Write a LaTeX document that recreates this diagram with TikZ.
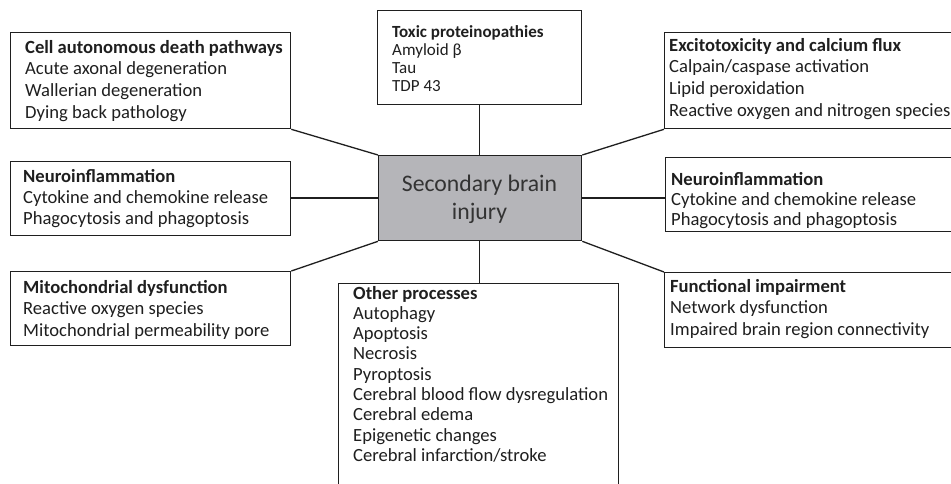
\documentclass[tikz,border=0pt]{standalone}
\usepackage{fontspec}
\setmainfont{Carlito}
\begin{document}
\begin{tikzpicture}[x=1pt,y=-1pt,
  frame/.style={draw=black!88,line width=1.3pt,fill=white,anchor=north west,inner sep=0pt},
  link/.style={draw=black!88,line width=1.3pt},
  txt/.style={anchor=base west,inner sep=0pt,text=black!88,font=\fontsize{18.6}{22}\selectfont},
  txtb/.style={txt,font=\fontsize{18.6}{22}\selectfont\bfseries},
  small/.style={anchor=base west,inner sep=0pt,text=black!88,font=\fontsize{17}{20}\selectfont},
  smallb/.style={small,font=\fontsize{17}{20}\selectfont\bfseries}]
\useasboundingbox (0,0) rectangle (951,483);
\clip (0,0) rectangle (951,483);
\fill[white] (0,0) rectangle (951,483);
% boxes
\node[frame,minimum width=280pt,minimum height=96pt] (cell) at (10,32) {};
\node[frame,minimum width=280pt,minimum height=74pt] (neuroL) at (10,161) {};
\node[frame,minimum width=280pt,minimum height=74pt] (mito) at (10,271) {};
\node[frame,minimum width=204pt,minimum height=94pt] (toxic) at (377,10) {};
\node[frame,fill={rgb,255:red,181;green,181;blue,185},minimum width=203pt,minimum height=85pt] (center) at (378,155) {};
\node[frame,minimum width=280pt,minimum height=215pt] (other) at (338,283) {};
\node[frame,minimum width=310pt,minimum height=96pt] (excito) at (664,32) {};
\node[frame,minimum width=310pt,minimum height=74pt] (neuroR) at (665,157) {};
\node[frame,minimum width=310pt,minimum height=75pt] (func) at (664,272) {};
% connectors
\draw[link] (cell.south east) -- (center.north west);
\draw[link] (neuroL.east |- 0,198) coordinate (nl) -- (center.west |- nl);
\draw[link] (mito.north east) -- (center.south west);
\draw[link] (toxic.south -| 479.5,0) coordinate (tb) -- (center.north -| tb);
\draw[link] (other.north -| 479.5,0) coordinate (ot) -- (center.south -| ot);
\draw[link] (excito.south west) -- (center.north east);
\draw[link] (neuroR.west |- 0,198) coordinate (nr) -- (center.east |- nr);
\draw[link] (func.north west) -- (center.south east);
% central text
\node[anchor=base,inner sep=0pt,text=black!80,font=\fontsize{23.7}{28}\selectfont] (c1) at (479.5,191) {Secondary brain};
\node[anchor=base,inner sep=0pt,text=black!80,font=\fontsize{23.7}{28}\selectfont] (c2) at (479.5,219) {injury};
% texts
\node[txtb] (t-cell) at (25,53) {Cell autonomous death pathways};
\foreach \t [count=\i] in {Acute axonal degeneration,Wallerian degeneration,Dying back pathology}
  \node[txt] (cell-\i) at (25,53+21.7*\i) {\t};
\node[txtb] (t-nl) at (23,182) {Neuroinflammation};
\foreach \t [count=\i] in {Cytokine and chemokine release,Phagocytosis and phagoptosis}
  \node[txt] (nl-\i) at (23,182+21*\i) {\t};
\node[txtb] (t-mito) at (23,293) {Mitochondrial dysfunction};
\foreach \t [count=\i] in {Reactive oxygen species,Mitochondrial permeability pore}
  \node[txt] (mito-\i) at (23,293+21.5*\i) {\t};
\node[smallb] (t-tox) at (392,37) {Toxic proteinopathies};
\foreach \t [count=\i] in {Amyloid β,Tau,TDP 43}
  \node[small] (tox-\i) at (392,37+18*\i) {\t};
\node[txtb] (t-oth) at (353,299) {Other processes};
\foreach \t [count=\i] in {Autophagy,Apoptosis,Necrosis,Pyroptosis,Cerebral blood flow dysregulation,Cerebral edema,Epigenetic changes,Cerebral infarction/stroke}
  \node[txt] (oth-\i) at (353,299+20.3*\i) {\t};
\node[txtb] (t-exc) at (669,51) {Excitotoxicity and calcium flux};
\foreach \t [count=\i] in {Calpain/caspase activation,Lipid peroxidation,Reactive oxygen and nitrogen species}
  \node[txt] (exc-\i) at (669,51+21.7*\i) {\t};
\node[txtb] (t-nr) at (671,185) {Neuroinflammation};
\foreach \t [count=\i] in {Cytokine and chemokine release,Phagocytosis and phagoptosis}
  \node[txt] (nr-\i) at (671,185+20*\i) {\t};
\node[txtb] (t-fn) at (670,292) {Functional impairment};
\foreach \t [count=\i] in {Network dysfunction,Impaired brain region connectivity}
  \node[txt] (fn-\i) at (670,292+21.5*\i) {\t};
\end{tikzpicture}
\end{document}
